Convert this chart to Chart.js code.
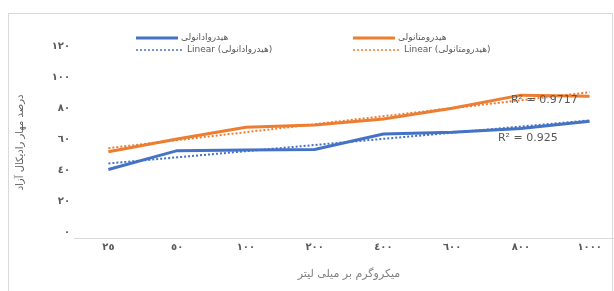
<!DOCTYPE html>
<html>
<head>
<meta charset="utf-8">
<script src="https://cdn.jsdelivr.net/npm/chart.js@4.4.1/dist/chart.umd.min.js"></script>
<style>
  html, body { margin: 0; padding: 0; background: #fff; overflow: hidden; }
  #wrap { width: 626px; height: 291px; }
</style>
</head>
<body>
<div id="wrap"><canvas id="lineChart"></canvas></div>
<script>
// data
var categories = ['٢٥', '٥٠', '١٠٠', '٢٠٠', '٤٠٠', '٦٠٠', '٨٠٠', '١٠٠٠'];
var hydroEthanol = [40.6, 52.7, 53.1, 53.5, 63.4, 64.5, 67, 71.6];
var hydroMethanol = [52, 60.2, 67.7, 69.2, 73, 80, 88.4, 87.7];
var seriesNames = ['هیدروادانولی', 'هیدرومتانولی'];
var r2Labels = ['R² = 0.925', 'R² = 0.9717'];
var yTicks = [0, 20, 40, 60, 80, 100, 120];

var BLUE = '#4472C4';
var ORANGE = '#ED7D31';
var FONT = "'DejaVu Sans', sans-serif";

function toArabicDigits(n) {
    return String(n).replace(/[0-9]/g, function (d) { return '٠١٢٣٤٥٦٧٨٩'[d]; });
}

// linear trendline (least squares), as in the original chart
function linearFit(values) {
    var n = values.length, sx = 0, sy = 0, sxy = 0, sxx = 0;
    for (var i = 0; i < n; i++) {
        var x = i + 1;
        sx += x; sy += values[i]; sxy += x * values[i]; sxx += x * x;
    }
    var slope = (n * sxy - sx * sy) / (n * sxx - sx * sx);
    var icpt = (sy - slope * sx) / n;
    return values.map(function (v, i) { return icpt + slope * (i + 1); });
}

// frame + custom 2x2 legend + R² labels
var extras = {
    id: 'extras',
    beforeDraw: function (chart) {
        var c = chart.ctx;
        c.save();
        c.strokeStyle = '#d9d9d9';
        c.lineWidth = 1;
        c.strokeRect(8.5, 13.5, 604, 300);
        c.restore();
    },
    afterDraw: function (chart) {
        var c = chart.ctx;
        var ds = chart.data.datasets;
        var cols = [136, 353];
        var rows = [38, 50];
        c.save();
        c.font = '9px ' + FONT;
        c.fillStyle = '#595959';
        c.textBaseline = 'middle';
        c.textAlign = 'left';
        ds.forEach(function (d, i) {
            var x = cols[i % 2], y = rows[Math.floor(i / 2)];
            var dotted = !!d.borderDash;
            var len = dotted ? 48 : 42;
            c.beginPath();
            c.strokeStyle = d.borderColor;
            c.lineWidth = dotted ? 1.5 : 3;
            c.setLineDash(dotted ? [2, 2] : []);
            c.moveTo(x, y);
            c.lineTo(x + len, y);
            c.stroke();
            c.setLineDash([]);
            c.fillText(d.label, x + len + 3, y);
        });

        var xs = chart.scales.x, ys = chart.scales.y;
        c.font = '11px ' + FONT;
        c.fillStyle = '#595959';
        c.fillText(r2Labels[1], xs.getPixelForValue(6) - 10, ys.getPixelForValue(85));
        c.fillText(r2Labels[0], xs.getPixelForValue(6) - 23, ys.getPixelForValue(60.6));
        c.restore();
    }
};

var ctx = document.getElementById('lineChart').getContext('2d');
var lineChart = new Chart(ctx, {
    type: 'line',
    data: {
        labels: categories,
        datasets: [{
            label: seriesNames[0],
            data: hydroEthanol,
            borderColor: BLUE,
            borderWidth: 3,
            pointRadius: 0,
            tension: 0
        }, {
            label: seriesNames[1],
            data: hydroMethanol,
            borderColor: ORANGE,
            borderWidth: 3,
            pointRadius: 0,
            tension: 0
        }, {
            label: 'Linear (' + seriesNames[0] + ')',
            data: linearFit(hydroEthanol),
            borderColor: BLUE,
            borderWidth: 2,
            borderDash: [2, 2],
            pointRadius: 0
        }, {
            label: 'Linear (' + seriesNames[1] + ')',
            data: linearFit(hydroMethanol),
            borderColor: ORANGE,
            borderWidth: 2,
            borderDash: [2, 2],
            pointRadius: 0
        }]
    },
    options: {
        responsive: true,
        maintainAspectRatio: false,
        animation: false,
        layout: { padding: { left: 8, right: 2, top: 46, bottom: 10 } },
        plugins: {
            legend: { display: false },
            tooltip: { enabled: false }
        },
        scales: {
            x: {
                offset: true,
                grid: { display: false, drawTicks: false },
                border: { display: true, color: '#d9d9d9' },
                ticks: {
                    padding: 3,
                    color: '#595959',
                    font: { family: FONT, size: 10, weight: 'bold' }
                },
                title: {
                    display: true,
                    text: 'میکروگرم بر میلی لیتر',
                    color: '#7f7f7f',
                    font: { family: FONT, size: 11 },
                    padding: { top: 11, bottom: 0 }
                }
            },
            y: {
                // axis line sits a little below the zero tick in the original
                min: -4,
                max: 120,
                afterBuildTicks: function (scale) {
                    scale.ticks = yTicks.map(function (v) { return { value: v }; });
                },
                afterFit: function (scale) { scale.width = 66; },
                grid: { display: false, drawTicks: false },
                border: { display: false },
                ticks: {
                    padding: 4,
                    color: '#595959',
                    font: { family: FONT, size: 10, weight: 'bold' },
                    callback: function (v) { return toArabicDigits(v); }
                },
                title: {
                    display: true,
                    text: 'درصد مهار رادیکال آزاد',
                    color: '#595959',
                    font: { family: FONT, size: 10 },
                    padding: { top: 6, bottom: 0 }
                }
            }
        }
    },
    plugins: [extras]
});
</script>
</body>
</html>
